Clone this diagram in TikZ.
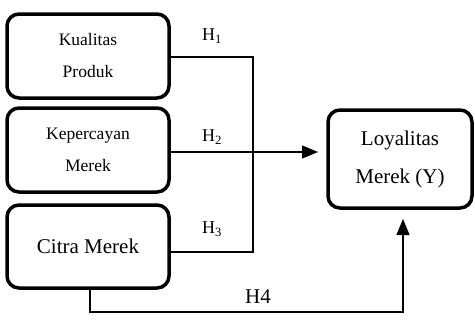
\documentclass[tikz,border=0pt]{standalone}
\usepackage{fontspec}
\setmainfont{Liberation Serif}
\usetikzlibrary{arrows.meta}
\begin{document}
\begin{tikzpicture}[x=1pt,y=-1pt,
  varbox/.style={draw, line width=3.5pt, rounded corners=12pt, align=center, inner sep=0pt},
  conn/.style={line width=1.3pt},
  arr/.style={conn, -{Triangle[length=16pt,width=13pt]}},
  hlab/.style={font=\fontsize{18}{20}\selectfont, inner sep=0pt}]
\useasboundingbox (0,0) rectangle (475,322);
\node[varbox, minimum width=162pt, minimum height=84pt, font=\fontsize{17.5}{32}\selectfont] (b1) at (88,56) {Kualitas\\Produk};
\node[varbox, minimum width=162pt, minimum height=84pt, font=\fontsize{17.5}{32}\selectfont] (b2) at (88,150) {Kepercayan\\Merek};
\node[varbox, minimum width=162pt, minimum height=83pt, font=\fontsize{21}{24}\selectfont] (b3) at (88,246.5) {Citra Merek};
\node[varbox, minimum width=144pt, minimum height=98pt, font=\fontsize{21}{38}\selectfont] (by) at (400,159) {Loyalitas\\Merek (Y)};
\coordinate (j1) at (253,57);
\coordinate (j3) at (253,252);
\coordinate (m2) at (0,152);
\coordinate (t2) at (318,152);
\coordinate (c1) at (90,312);
\coordinate (c2) at (403,312);
\coordinate (t4) at (403,219);
\draw[conn] (b1.east |- j1) -- (j1) -- (j3) -- (b3.east |- j3);
\draw[arr] (b2.east |- m2) -- (t2);
\draw[arr] (b3.south -| c1) -- (c1) -- (c2) -- (t4);
\node[hlab] (h1) at (212,36) {H\textsubscript{1}};
\node[hlab] (h2) at (212,137) {H\textsubscript{2}};
\node[hlab] (h3) at (212,229) {H\textsubscript{3}};
\node[hlab, font=\fontsize{21}{24}\selectfont] (h4) at (258,297) {H4};
\end{tikzpicture}
\end{document}
